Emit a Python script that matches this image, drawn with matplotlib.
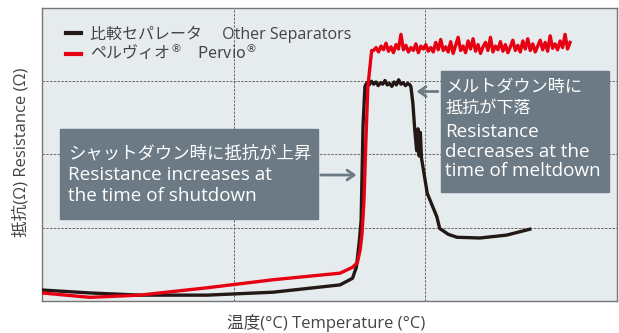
import matplotlib

matplotlib.use("Agg")

import matplotlib.pyplot as plt
import numpy as np
from matplotlib.patches import Rectangle

plt.rcParams["font.family"] = ["Open Sans", "Noto Sans CJK JP", "DejaVu Sans"]

# Other separators (black)
black_x = [0.0, 0.25, 0.51, 0.86, 1.205, 1.555, 1.62, 1.64, 1.655, 1.665, 1.675, 1.685]
black_y = [0.15, 0.11, 0.08, 0.08, 0.12, 0.22, 0.31, 0.46, 0.80, 1.10, 2.40, 2.93]
black_top_y = [2.98, 2.95, 3.00, 2.96, 2.99, 2.94, 2.98, 2.96, 3.01, 2.95,
               2.97, 2.93, 2.99, 2.95, 3.02, 2.96, 2.98, 2.94, 2.97, 2.95]
black_tail_x = [1.925, 1.935, 1.945, 1.955, 1.962, 1.968, 1.974, 1.98, 2.01, 2.06,
                2.075, 2.12, 2.165, 2.285, 2.425, 2.545]
black_tail_y = [2.92, 2.70, 2.33, 2.05, 2.35, 1.98, 2.30, 1.95, 1.47, 1.15,
                0.99, 0.91, 0.87, 0.86, 0.90, 0.98]

# Pervio (red)
red_x = [0.0, 0.25, 0.51, 0.86, 1.205, 1.555, 1.62, 1.645, 1.66, 1.67, 1.68, 1.69, 1.70, 1.72]
red_y = [0.11, 0.05, 0.08, 0.18, 0.29, 0.38, 0.46, 0.52, 0.70, 0.93, 1.38, 2.20, 2.92, 3.42]
red_top_y = [3.42, 3.46, 3.40, 3.48, 3.43, 3.52, 3.41, 3.47, 3.39, 3.50,
             3.44, 3.64, 3.43, 3.49, 3.40, 3.46, 3.42, 3.51, 3.39, 3.48,
             3.44, 3.50, 3.41, 3.46, 3.40, 3.53, 3.43, 3.57, 3.42, 3.47,
             3.40, 3.54, 3.38, 3.49, 3.60, 3.42, 3.48, 3.39, 3.55, 3.44,
             3.58, 3.41, 3.50, 3.38, 3.47, 3.53, 3.42, 3.60, 3.40, 3.48,
             3.43, 3.54, 3.41, 3.50, 3.39, 3.47, 3.56, 3.42, 3.49, 3.40,
             3.55, 3.44, 3.58, 3.42, 3.51, 3.40, 3.48, 3.56, 3.43, 3.53,
             3.41, 3.62, 3.45, 3.51, 3.43, 3.55, 3.46, 3.64, 3.44, 3.53]

legend_labels = ["比較セパレータ　 Other Separators", "ペルヴィオ$^{®}$　Pervio$^{®}$"]
left_note_jp = "シャットダウン時に抵抗が上昇"
left_note_en = ["Resistance increases at", "the time of shutdown"]
right_note_jp = ["メルトダウン時に", "抵抗が下落"]
right_note_en = ["Resistance", "decreases at the", "time of meltdown"]

box_color = "#6b7a84"
text_gray = "#444444"

fig = plt.figure(figsize=(6.19, 3.33), dpi=100)
ax = fig.add_axes([42 / 619, 32 / 333, 575 / 619, 293 / 333])
ax.set_facecolor("#e6ebee")
ax.set_xlim(0, 3)
ax.set_ylim(0, 4)

bx = black_x + list(np.linspace(1.695, 1.92, len(black_top_y))) + black_tail_x
by = black_y + black_top_y + black_tail_y
rx = red_x + list(np.linspace(1.73, 2.755, len(red_top_y)))
ry = red_y + red_top_y

ax.plot(bx, by, color="#231815", lw=2.4, solid_joinstyle="round", zorder=3)
ax.plot(rx, ry, color="#e60012", lw=2.4, solid_joinstyle="round", zorder=4)

ax.set_xticks([1, 2])
ax.set_yticks([1, 2, 3])
ax.tick_params(length=0, labelbottom=False, labelleft=False)
ax.grid(True, color="#555555", linestyle=(0, (3, 1.5)), linewidth=0.6)
for sp in ax.spines.values():
    sp.set_color("#777777")
    sp.set_linewidth(1.0)

# legend
h1, = ax.plot([], [], color="#231815", lw=3)
h2, = ax.plot([], [], color="#e60012", lw=3)
leg = ax.legend([h1, h2], legend_labels, loc="upper left", bbox_to_anchor=(0.03, 0.962),
                frameon=False, fontsize=11.5, handlelength=0.95, handletextpad=0.6,
                labelspacing=0.0, labelcolor=text_gray, borderaxespad=0)
# mathtext needs a font that has the kana
leg.get_texts()[1].set_fontfamily("Noto Sans CJK JP")

# annotation boxes
ax.add_patch(Rectangle((0.094, 1.12), 1.346, 1.23, color=box_color, zorder=5))
ax.add_patch(Rectangle((2.08, 1.49), 0.88, 1.65, color=box_color, zorder=5))
ax.text(0.136, 2.01, left_note_jp, color="white", fontsize=12.5,
        va="center", ha="left", zorder=6)
for i, line in enumerate(left_note_en):
    ax.text(0.136, 1.72 - i * 0.29, line, color="white", fontsize=13.6,
            va="center", ha="left", zorder=6)
right_y = [2.91, 2.63, 2.31, 2.04, 1.77]
for line, yy in zip(right_note_jp + right_note_en, right_y):
    size = 12.3 if line in right_note_jp else 13.6
    ax.text(2.105, yy, line, color="white", fontsize=size,
            va="center", ha="left", zorder=6)

arrow = dict(arrowstyle="->,head_length=0.5,head_width=0.35", color=box_color, lw=2)
ax.annotate("", xy=(1.655, 1.72), xytext=(1.44, 1.72), arrowprops=arrow, zorder=6)
ax.annotate("", xy=(1.94, 2.86), xytext=(2.08, 2.86), arrowprops=arrow, zorder=6)

fig.text(326 / 619, 1 - 323 / 333, "温度(°C) Temperature (°C)", ha="center", va="center",
         fontsize=12, color=text_gray)
fig.text(21 / 619, 1 - 152 / 333, "抵抗(Ω) Resistance (Ω)", ha="center", va="center",
         rotation=90, fontsize=12, color=text_gray)

fig.savefig("out.png", dpi=100)
